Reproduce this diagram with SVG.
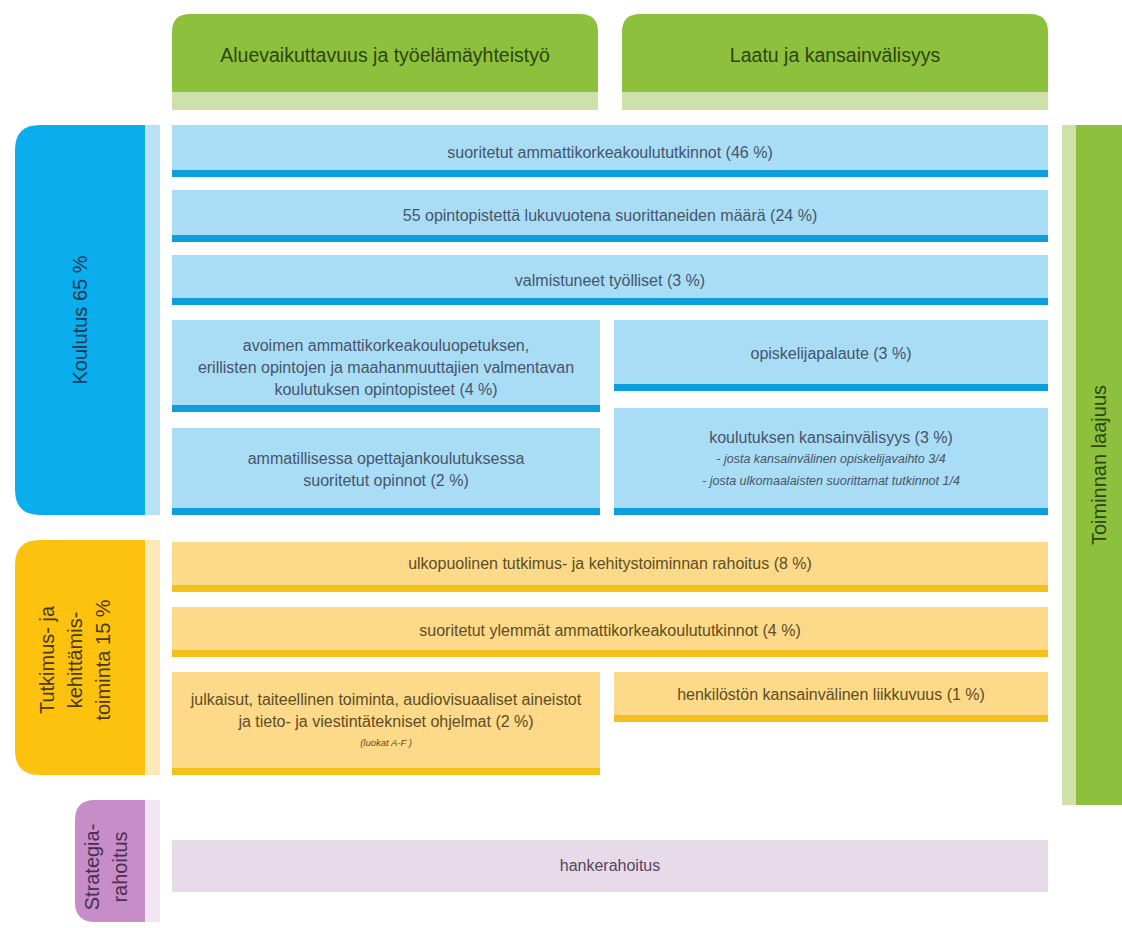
<svg xmlns="http://www.w3.org/2000/svg" width="1122" height="928" viewBox="0 0 1122 928">
<style>
.hd{fill:#8dc03c}
.hdb{fill:#cfe1aa}
.ht{font-family:"Liberation Sans",Arial,sans-serif;font-size:19.5px;fill:#2e4511;text-anchor:middle}
.bl{fill:#a9ddf6}
.bb{fill:#0d9fdb}
.yl{fill:#fdd98a}
.yb{fill:#f4c01b}
.pl{fill:#e8dbe9}
.t{font-family:"Liberation Sans",Arial,sans-serif;font-size:16px;text-anchor:middle}
.tb{fill:#46556a}
.ty{fill:#5e4e22}
.tp{fill:#55465b}
.s{font-size:12.5px;font-style:italic}
.xs{font-size:9.5px;font-style:italic}
.lt{font-family:"Liberation Sans",Arial,sans-serif;font-size:20px;text-anchor:middle}
</style>
<rect width="1122" height="928" fill="#ffffff"/>

<g id="header-alue">
<path class="hd" d="M172,92 V32 Q172,14 190,14 H580 Q598,14 598,32 V92 Z"/>
<rect class="hdb" x="172" y="92" width="426" height="18"/>
<text class="ht" x="385" y="62">Aluevaikuttavuus ja työelämäyhteistyö</text>
</g>
<g id="header-laatu">
<path class="hd" d="M622,92 V32 Q622,14 640,14 H1030 Q1048,14 1048,32 V92 Z"/>
<rect class="hdb" x="622" y="92" width="426" height="18"/>
<text class="ht" x="835" y="62">Laatu ja kansainvälisyys</text>
</g>

<g id="label-koulutus">
<path fill="#0aaeec" d="M145,125 V515 H40 Q15,515 15,490 V150 Q15,125 40,125 Z"/>
<rect fill="#b9e2f7" x="145" y="125" width="15" height="390"/>
<text class="lt" fill="#1d3a55" font-size="21" transform="translate(87,320) rotate(-90)">Koulutus 65 %</text>
</g>

<g id="row-tutkinnot">
<rect class="bl" x="172" y="125" width="876" height="45"/>
<rect class="bb" x="172" y="170" width="876" height="7"/>
<text class="t tb" x="610" y="158">suoritetut ammattikorkeakoulututkinnot (46 %)</text>
</g>
<g id="row-55op">
<rect class="bl" x="172" y="190" width="876" height="45"/>
<rect class="bb" x="172" y="235" width="876" height="7"/>
<text class="t tb" x="610" y="221">55 opintopistettä lukuvuotena suorittaneiden määrä (24 %)</text>
</g>
<g id="row-tyolliset">
<rect class="bl" x="172" y="255" width="876" height="43"/>
<rect class="bb" x="172" y="298" width="876" height="7"/>
<text class="t tb" x="610" y="286">valmistuneet työlliset (3 %)</text>
</g>
<g id="row-avoin">
<rect class="bl" x="172" y="320" width="428" height="85"/>
<rect class="bb" x="172" y="405" width="428" height="7"/>
<text class="t tb" x="386" y="351">avoimen ammattikorkeakouluopetuksen,</text>
<text class="t tb" x="386" y="373">erillisten opintojen ja maahanmuuttajien valmentavan</text>
<text class="t tb" x="386" y="395">koulutuksen opintopisteet (4 %)</text>
</g>
<g id="row-palaute">
<rect class="bl" x="614" y="320" width="434" height="64"/>
<rect class="bb" x="614" y="384" width="434" height="7"/>
<text class="t tb" x="831" y="359">opiskelijapalaute (3 %)</text>
</g>
<g id="row-opettaja">
<rect class="bl" x="172" y="428" width="428" height="80"/>
<rect class="bb" x="172" y="508" width="428" height="7"/>
<text class="t tb" x="386" y="464">ammatillisessa opettajankoulutuksessa</text>
<text class="t tb" x="386" y="486">suoritetut opinnot (2 %)</text>
</g>
<g id="row-kv">
<rect class="bl" x="614" y="408" width="434" height="100"/>
<rect class="bb" x="614" y="508" width="434" height="7"/>
<text class="t tb" x="831" y="443">koulutuksen kansainvälisyys (3 %)</text>
<text class="t tb s" x="831" y="463">- josta kansainvälinen opiskelijavaihto 3/4</text>
<text class="t tb s" x="831" y="485">- josta ulkomaalaisten suorittamat tutkinnot 1/4</text>
</g>

<g id="label-tki">
<path fill="#fdc20e" d="M145,540 V775 H40 Q15,775 15,750 V565 Q15,540 40,540 Z"/>
<rect fill="#fde9b8" x="145" y="540" width="15" height="235"/>
<text class="lt" fill="#4a3a10" font-size="19" transform="translate(75,660) rotate(-90)"><tspan x="0" y="-21">Tutkimus- ja</tspan><tspan x="0" y="7">kehittämis-</tspan><tspan x="0" y="35">toiminta 15 %</tspan></text>
</g>

<g id="row-ulkopuolinen">
<rect class="yl" x="172" y="542" width="876" height="43"/>
<rect class="yb" x="172" y="585" width="876" height="7"/>
<text class="t ty" x="610" y="569">ulkopuolinen tutkimus- ja kehitystoiminnan rahoitus (8 %)</text>
</g>
<g id="row-ylemmat">
<rect class="yl" x="172" y="607" width="876" height="43"/>
<rect class="yb" x="172" y="650" width="876" height="7"/>
<text class="t ty" x="610" y="636">suoritetut ylemmät ammattikorkeakoulututkinnot (4 %)</text>
</g>
<g id="row-julkaisut">
<rect class="yl" x="172" y="672" width="428" height="96"/>
<rect class="yb" x="172" y="768" width="428" height="7"/>
<text class="t ty" x="386" y="705">julkaisut, taiteellinen toiminta, audiovisuaaliset aineistot</text>
<text class="t ty" x="386" y="727">ja tieto- ja viestintätekniset ohjelmat (2 %)</text>
<text class="t ty xs" x="386" y="746">(luokat A-F )</text>
</g>
<g id="row-henkilosto">
<rect class="yl" x="614" y="672" width="434" height="43"/>
<rect class="yb" x="614" y="715" width="434" height="7"/>
<text class="t ty" x="831" y="700">henkilöstön kansainvälinen liikkuvuus (1 %)</text>
</g>

<g id="label-strategia">
<path fill="#c68dc8" d="M145,800 V922 H95 Q75,922 75,902 V820 Q75,800 95,800 Z"/>
<rect fill="#f1e6f2" x="145" y="800" width="15" height="122"/>
<text class="lt" fill="#4d2e52" font-size="18" transform="translate(108,867) rotate(-90)"><tspan x="0" y="-9">Strategia-</tspan><tspan x="0" y="19">rahoitus</tspan></text>
</g>
<g id="row-hanke">
<rect class="pl" x="172" y="840" width="876" height="52"/>
<text class="t tp" x="610" y="871">hankerahoitus</text>
</g>

<g id="label-laajuus">
<rect fill="#cfe1aa" x="1062" y="125" width="14" height="680"/>
<rect fill="#8dc03c" x="1076" y="125" width="46" height="680"/>
<text class="lt" fill="#2e4511" transform="translate(1106,465) rotate(-90)">Toiminnan laajuus</text>
</g>

<g id="connectors"></g>
</svg>
